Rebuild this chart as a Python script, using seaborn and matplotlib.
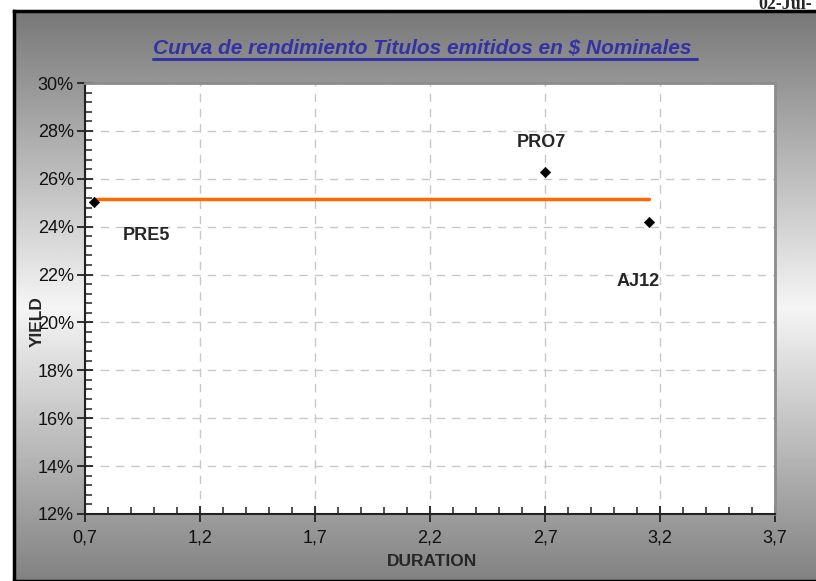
import matplotlib
matplotlib.use('Agg')
import matplotlib.pyplot as plt
import seaborn as sns
import numpy as np
import pandas as pd
from matplotlib.ticker import MultipleLocator, FuncFormatter
from matplotlib.lines import Line2D

# Data
bonds = ['PRE5', 'PRO7', 'AJ12']
duration = [0.74, 2.70, 3.15]
yields = [25.05, 26.3, 24.2]
trend_x = [0.74, 3.15]
trend_y = [25.17, 25.17]
xtick_vals = [0.7, 1.2, 1.7, 2.2, 2.7, 3.2, 3.7]
ytick_vals = [12, 14, 16, 18, 20, 22, 24, 26, 28, 30]

df = pd.DataFrame({'bond': bonds, 'duration': duration, 'yield': yields})
df_trend = pd.DataFrame({'duration': trend_x, 'yield': trend_y})

sns.set_style('white')
plt.rcParams['font.family'] = ['Liberation Sans', 'DejaVu Sans']

W, H = 816, 581
fig = plt.figure(figsize=(W / 100, H / 100), dpi=100)

# Gradient background panel (gray -> white -> gray)
bg = fig.add_axes([14 / W, 0, 1 - 14 / W + 0.02, (H - 11) / H])
t = np.linspace(0, 1, 300)
shade = 0.47 + 0.49 * (1 - np.abs(t - 0.52) / 0.52).clip(0, 1)
grad = np.tile(shade[:, None], (1, 10))
bg.imshow(grad, cmap='gray', vmin=0, vmax=1, aspect='auto', extent=[0, 1, 0, 1], origin='upper')
bg.set_xticks([])
bg.set_yticks([])
for s in bg.spines.values():
    s.set_color('black')
    s.set_linewidth(2.5)

# Main plot area
ax = fig.add_axes([85 / W, 1 - 514 / H, 690 / W, 431 / H])
ax.set_facecolor('white')
sns.lineplot(x='duration', y='yield', data=df_trend, color='#ff6a00', linewidth=2.5, ax=ax)
sns.scatterplot(x='duration', y='yield', data=df, marker='D', color='black', s=28,
                edgecolor='black', ax=ax, zorder=5)

offsets = {'PRE5': (52, -34), 'PRO7': (-4, 29), 'AJ12': (-10, -60)}
for b, x, y in zip(bonds, duration, yields):
    ax.annotate(b, (x, y), xytext=offsets[b], textcoords='offset pixels',
                ha='center', va='center', fontsize=13, fontweight='bold')

ax.set_xlim(0.7, 3.7)
ax.set_ylim(12, 30)
ax.set_xticks(xtick_vals)
ax.set_yticks(ytick_vals)
ax.xaxis.set_minor_locator(MultipleLocator(0.1))
ax.yaxis.set_minor_locator(MultipleLocator(0.4))
ax.xaxis.set_major_formatter(FuncFormatter(lambda v, p: f'{v:.1f}'.replace('.', ',')))
ax.yaxis.set_major_formatter(FuncFormatter(lambda v, p: f'{v:.0f}%'))
ax.tick_params(which='major', direction='inout', length=12, width=1.3, colors='#222222',
               labelsize=13, labelcolor='#111111')
ax.tick_params(axis='y', which='major', pad=2)
ax.tick_params(axis='x', which='major', pad=5)
ax.tick_params(which='minor', direction='in', length=5, width=1.1, colors='#222222')
ax.tick_params(bottom=True, left=True, which='both')
ax.grid(True, which='major', color='#c8c8c8', linestyle=(0, (6, 5)), linewidth=1)
ax.set_xlabel('')
ax.set_ylabel('')
ax.spines['left'].set_color('#222222')
ax.spines['bottom'].set_color('#222222')
ax.spines['left'].set_linewidth(1.5)
ax.spines['bottom'].set_linewidth(1.5)
ax.spines['top'].set_color('#8c8c8c')
ax.spines['right'].set_color('#8c8c8c')
ax.spines['top'].set_linewidth(2)
ax.spines['right'].set_linewidth(2)

# Axis titles
fig.text(37 / W, 1 - 322 / H, 'YIELD', rotation=90, ha='center', va='center',
         fontsize=12.5, fontweight='bold')
fig.text(432 / W, 1 - 562 / H, 'DURATION', ha='center', va='center',
         fontsize=12.5, fontweight='bold')

# Title with underline
title = fig.text(425 / W, 1 - 48 / H, 'Curva de rendimiento Titulos emitidos en $ Nominales ',
                 ha='center', va='center', fontsize=15, fontweight='bold', fontstyle='italic',
                 color='#3333a6')
fig.canvas.draw()
bb = title.get_window_extent()
uy = bb.y0 - 1
fig.add_artist(Line2D([bb.x0 / W, bb.x1 / W], [uy / H, uy / H], color='#3333a6', lw=2.2,
                      transform=fig.transFigure))

# Date (top right corner)
fig.text(812 / W, 1 - 9 / H, '02-Jul-', ha='right', va='baseline', fontsize=13,
         fontweight='bold', family=['Liberation Serif', 'DejaVu Serif'])

fig.savefig('out.png', dpi=100)
